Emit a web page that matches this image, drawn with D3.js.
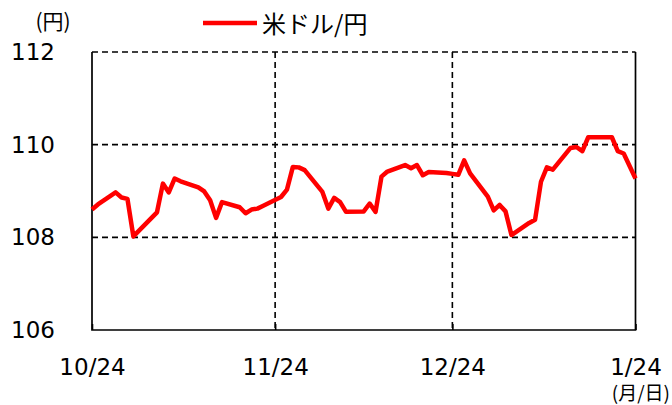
<!DOCTYPE html>
<html>
<head>
<meta charset="utf-8">
<script src="https://cdn.jsdelivr.net/npm/d3@7"></script>
<style>
  html, body { margin: 0; padding: 0; background: #fff; }
  svg { display: block; }
</style>
</head>
<body>
<svg id="chart" width="672" height="405"></svg>
<script>
// USD/JPY daily rates, 2019-10-24 to 2020-01-24
const dates = [
  "2019-10-24","2019-10-25","2019-10-28","2019-10-29","2019-10-30","2019-10-31",
  "2019-11-01","2019-11-04","2019-11-05","2019-11-06","2019-11-07","2019-11-08",
  "2019-11-11","2019-11-12","2019-11-13","2019-11-14","2019-11-15","2019-11-18",
  "2019-11-19","2019-11-20","2019-11-21","2019-11-22","2019-11-25","2019-11-26",
  "2019-11-27","2019-11-28","2019-11-29","2019-12-02","2019-12-03","2019-12-04",
  "2019-12-05","2019-12-06","2019-12-09","2019-12-10","2019-12-11","2019-12-12",
  "2019-12-13","2019-12-16","2019-12-17","2019-12-18","2019-12-19","2019-12-20",
  "2019-12-23","2019-12-24","2019-12-25","2019-12-26","2019-12-27","2019-12-30",
  "2019-12-31","2020-01-01","2020-01-02","2020-01-03","2020-01-06","2020-01-07",
  "2020-01-08","2020-01-09","2020-01-10","2020-01-13","2020-01-14","2020-01-15",
  "2020-01-16","2020-01-17","2020-01-20","2020-01-21","2020-01-22","2020-01-23",
  "2020-01-24"
];
const usdjpy = [
  108.60, 108.71, 108.97, 108.86, 108.83, 108.02,
  108.15, 108.54, 109.16, 108.97, 109.27, 109.21,
  109.08, 108.99, 108.80, 108.42, 108.76, 108.65,
  108.52, 108.60, 108.62, 108.68, 108.87, 109.03,
  109.52, 109.51, 109.45, 108.98, 108.62, 108.85,
  108.76, 108.55, 108.56, 108.73, 108.55, 109.31,
  109.42, 109.56, 109.49, 109.56, 109.34, 109.41,
  109.39, 109.37, 109.35, 109.66, 109.38, 108.88,
  108.58, 108.70, 108.56, 108.05, 108.31, 108.38,
  109.20, 109.51, 109.46, 109.93, 109.95, 109.86,
  110.16, 110.16, 110.16, 109.86, 109.81, 109.54,
  109.27
];
const xTicks = ["2019-10-24","2019-11-24","2019-12-24","2020-01-24"];
const yTicks = [106, 108, 110, 112];
const seriesName = "米ドル/円";
const yUnit = "(円)";
const xUnit = "(月/日)";

const parse = d3.timeParse("%Y-%m-%d");
const data = dates.map((d, i) => ({ date: parse(d), value: usdjpy[i] }));
const tickDates = xTicks.map(parse);

const svg = d3.select("#chart");
const plotL = 92, plotR = 635.5, plotT = 52, plotB = 330;

const x = d3.scaleTime()
  .domain([tickDates[0], tickDates[tickDates.length - 1]])
  .range([plotL, plotR]);
const y = d3.scaleLinear().domain([106, 112]).range([plotB, plotT]);

const numFont = "'DejaVu Sans', Verdana, sans-serif";
const jpFont = "'Noto Sans CJK JP', 'Noto Sans', sans-serif";

// dashed grid: horizontal at inner ticks + top, vertical at inner date ticks
const grid = svg.append("g")
  .attr("stroke", "#000")
  .attr("stroke-width", 1.6)
  .attr("stroke-dasharray", "6,4")
  .attr("fill", "none");
grid.selectAll("line.h")
  .data(yTicks.filter(v => v > 106))
  .join("line")
  .attr("class", "h")
  .attr("x1", plotL).attr("x2", plotR)
  .attr("y1", d => y(d)).attr("y2", d => y(d));
grid.selectAll("line.v")
  .data(tickDates.slice(1, -1))
  .join("line")
  .attr("class", "v")
  .attr("x1", d => x(d)).attr("x2", d => x(d))
  .attr("y1", plotT).attr("y2", plotB);

// solid frame: left, bottom, right
svg.append("path")
  .attr("d", `M${plotL},${plotT}V${plotB}H${plotR}V${plotT}`)
  .attr("fill", "none")
  .attr("stroke", "#000")
  .attr("stroke-width", 1.7);

// bottom axis with short inner ticks
const xAxis = d3.axisBottom(x)
  .tickValues(tickDates)
  .tickFormat(d3.timeFormat("%-m/%-d"))
  .tickSizeInner(-6)
  .tickSizeOuter(0)
  .tickPadding(29);
const gx = svg.append("g")
  .attr("transform", `translate(0,${plotB})`)
  .call(xAxis);
gx.select(".domain").remove();
gx.selectAll(".tick line").attr("stroke", "#000").attr("stroke-width", 1.6);
gx.selectAll(".tick text")
  .attr("fill", "#000")
  .attr("font-family", numFont)
  .attr("font-size", 23);

// left axis labels
const yAxis = d3.axisLeft(y)
  .tickValues(yTicks)
  .tickFormat(d3.format("d"))
  .tickSize(0)
  .tickPadding(37);
const gy = svg.append("g")
  .attr("transform", `translate(${plotL},0)`)
  .call(yAxis);
gy.select(".domain").remove();
gy.selectAll(".tick text")
  .attr("fill", "#000")
  .attr("font-family", numFont)
  .attr("font-size", 23);

// rate line
const line = d3.line()
  .x(d => x(d.date))
  .y(d => y(d.value));
svg.append("path")
  .datum(data)
  .attr("d", line)
  .attr("fill", "none")
  .attr("stroke", "#ff0000")
  .attr("stroke-width", 4.5)
  .attr("stroke-linejoin", "round");

// unit labels
svg.append("text")
  .attr("x", 53).attr("y", 29)
  .attr("text-anchor", "middle")
  .attr("font-family", jpFont)
  .attr("font-size", 21)
  .text(yUnit);
svg.append("text")
  .attr("x", 670).attr("y", 400)
  .attr("text-anchor", "end")
  .attr("font-family", jpFont)
  .attr("font-size", 19)
  .text(xUnit);

// legend
const legend = svg.append("g");
legend.append("line")
  .attr("x1", 203).attr("x2", 257)
  .attr("y1", 23).attr("y2", 23)
  .attr("stroke", "#ff0000")
  .attr("stroke-width", 4.5);
legend.append("text")
  .attr("x", 262).attr("y", 33)
  .attr("font-family", jpFont)
  .attr("font-size", 24)
  .text(seriesName);
</script>
</body>
</html>
